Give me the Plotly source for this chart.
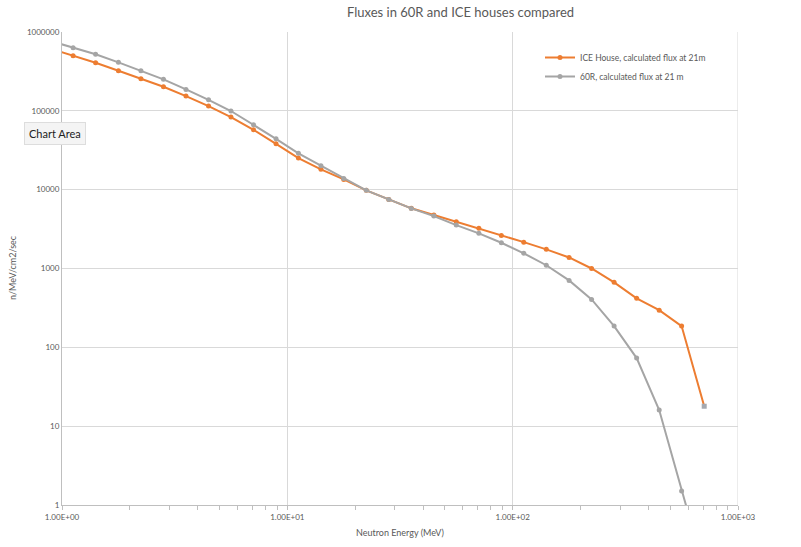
import plotly.graph_objects as go

# Data (energies in MeV, flux in n/MeV/cm2/sec)
energy = [0.891, 1.12, 1.41, 1.78, 2.24, 2.82, 3.55, 4.47, 5.62, 7.08, 8.91,
          11.2, 14.1, 17.8, 22.4, 28.2, 35.5, 44.7, 56.2, 70.8, 89.1,
          112, 141, 178, 224, 282, 355, 447, 562, 708]

ice_flux = [614000, 500000, 408000, 323000, 255000, 202000, 154000, 115000, 83400, 57500, 38200,
            25200, 18100, 13500, 9800, 7500, 5800, 4760, 3920, 3230, 2630,
            2160, 1750, 1380, 1000, 667, 418, 296, 186, 17.9]

r60_flux = [769000, 632000, 521000, 412000, 323000, 251000, 187000, 138000, 99500, 66600, 44200,
            28900, 20100, 13900, 9800, 7530, 5790, 4620, 3550, 2790, 2120,
            1560, 1100, 706, 405, 186, 73, 16, 1.5, 0.15]

series_names = ["ICE House, calculated flux at 21m", "60R, calculated flux at 21 m"]
title_text = "Fluxes in 60R and ICE houses compared"
x_title = "Neutron Energy (MeV)"
y_title = "n/MeV/cm2/sec"
x_tickvals = [1, 10, 100, 1000]
x_ticktext = ["1.00E+00", "1.00E+01", "1.00E+02", "1.00E+03"]
y_tickvals = [1, 10, 100, 1000, 10000, 100000, 1000000]
y_ticktext = ["1", "10", "100", "1000", "10000", "100000", "1000000"]

ORANGE = "#ED7D31"
GRAY = "#A5A5A5"
TXT = "#595959"
FONT = "Lato"

W, H = 801, 547
# target plot area in screen px: x 62..738, y 32..505
L, T = 62, 32
R, B = 801 - 738, 547 - 505
PW, PH = W - L - R, H - T - B


def px(sx):
    return (sx - L) / PW


def py(sy):
    return (H - B - sy) / PH


ice_marker_colors = [ORANGE] * (len(ice_flux) - 1) + ["#A5A9B0"]
ice_marker_symbols = ["circle"] * (len(ice_flux) - 1) + ["square"]

fig = go.Figure()
fig.add_trace(go.Scatter(
    x=energy, y=ice_flux, mode="lines+markers", name=series_names[0],
    line=dict(color=ORANGE, width=2),
    marker=dict(color=ice_marker_colors, symbol=ice_marker_symbols, size=5),
))
fig.add_trace(go.Scatter(
    x=energy, y=r60_flux, mode="lines+markers", name=series_names[1],
    line=dict(color=GRAY, width=2),
    marker=dict(color=GRAY, size=5),
))

fig.update_layout(
    width=W, height=H,
    margin=dict(l=L, r=R, t=T, b=B),
    paper_bgcolor="white", plot_bgcolor="white",
    font=dict(family=FONT, color=TXT, size=8),
    showlegend=True,
    legend=dict(
        x=px(540), y=py(43),
        xanchor="left", yanchor="top",
        bgcolor="rgba(0,0,0,0)", font=dict(size=8.5, color=TXT, family=FONT),
        tracegroupgap=0, itemwidth=30,
    ),
    xaxis=dict(
        type="log", range=[0, 3],
        tickvals=x_tickvals, ticktext=x_ticktext,
        showgrid=True, gridcolor="#D9D9D9", gridwidth=1,
        showline=True, linecolor="#BFBFBF", linewidth=1,
        ticks="outside", ticklen=4, tickcolor="#BFBFBF",
        minor=dict(ticks="outside", ticklen=4, tickcolor="#BFBFBF", dtick="D1", showgrid=False),
        tickfont=dict(size=8, color=TXT, family=FONT),
        zeroline=False,
    ),
    yaxis=dict(
        type="log", range=[0, 6],
        tickvals=y_tickvals, ticktext=y_ticktext,
        showgrid=True, gridcolor="#D9D9D9", gridwidth=1,
        showline=True, linecolor="#BFBFBF", linewidth=1,
        ticks="",
        tickfont=dict(size=8, color=TXT, family=FONT),
        zeroline=False,
    ),
)

# right border gridline (x=1000)
fig.add_shape(type="line", xref="x", yref="paper", x0=1000, x1=1000, y0=0, y1=1,
              line=dict(color="#D9D9D9", width=1))

# Title
fig.add_annotation(text=title_text, xref="paper", yref="paper",
                   x=px(460), y=py(12),
                   showarrow=False, xanchor="center", yanchor="middle",
                   font=dict(size=13, color=TXT, family=FONT))
# Axis titles
fig.add_annotation(text=x_title, xref="paper", yref="paper",
                   x=px(400), y=py(532),
                   showarrow=False, xanchor="center", yanchor="middle",
                   font=dict(size=9, color=TXT, family=FONT))
fig.add_annotation(text=y_title, xref="paper", yref="paper",
                   x=px(12), y=py(268),
                   showarrow=False, xanchor="center", yanchor="middle", textangle=-90,
                   font=dict(size=9, color=TXT, family=FONT))
# "Chart Area" tooltip box
fig.add_annotation(text="Chart Area", xref="paper", yref="paper",
                   x=px(55), y=py(133),
                   showarrow=False, xanchor="center", yanchor="middle",
                   font=dict(size=11, color="#222222", family=FONT),
                   bgcolor="#F4F4F4", bordercolor="#DDDDDD", borderwidth=1, borderpad=4)

# remove the default page margin so the 801x547 figure fills the window exactly
fig.write_html("out.html", config={"displayModeBar": False},
               post_script="document.body.style.margin='0px';")
